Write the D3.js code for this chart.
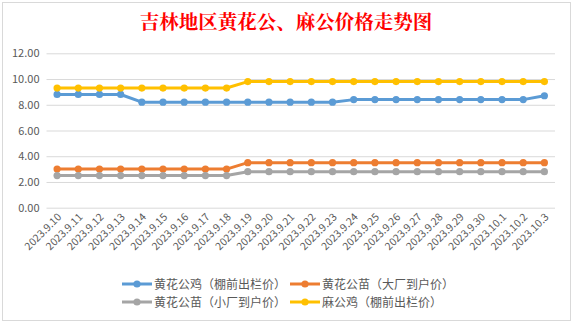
<!DOCTYPE html>
<html><head><meta charset="utf-8">
<script src="https://cdn.jsdelivr.net/npm/d3@7"></script>
<style>html,body{margin:0;padding:0;background:#fff;}svg{display:block;}</style>
</head><body>
<script>
const categories = ["2023.9.10","2023.9.11","2023.9.12","2023.9.13","2023.9.14","2023.9.15","2023.9.16","2023.9.17","2023.9.18","2023.9.19","2023.9.20","2023.9.21","2023.9.22","2023.9.23","2023.9.24","2023.9.25","2023.9.26","2023.9.27","2023.9.28","2023.9.29","2023.9.30","2023.10.1","2023.10.2","2023.10.3"];
const seriesNames = ["黄花公鸡（棚前出栏价）","黄花公苗（大厂到户价）","黄花公苗（小厂到户价）","麻公鸡（棚前出栏价）"];
const huangGongJi = [8.8,8.8,8.8,8.8,8.2,8.2,8.2,8.2,8.2,8.2,8.2,8.2,8.2,8.2,8.4,8.4,8.4,8.4,8.4,8.4,8.4,8.4,8.4,8.7];
const daChangMiao = [3.0,3.0,3.0,3.0,3.0,3.0,3.0,3.0,3.0,3.5,3.5,3.5,3.5,3.5,3.5,3.5,3.5,3.5,3.5,3.5,3.5,3.5,3.5,3.5];
const xiaoChangMiao = [2.5,2.5,2.5,2.5,2.5,2.5,2.5,2.5,2.5,2.8,2.8,2.8,2.8,2.8,2.8,2.8,2.8,2.8,2.8,2.8,2.8,2.8,2.8,2.8];
const maGongJi = [9.3,9.3,9.3,9.3,9.3,9.3,9.3,9.3,9.3,9.8,9.8,9.8,9.8,9.8,9.8,9.8,9.8,9.8,9.8,9.8,9.8,9.8,9.8,9.8];
const yTicks = [0,2,4,6,8,10,12];
const colors = ["#5b9bd5","#ed7d31","#a5a5a5","#ffc000"];
const seriesData = [huangGongJi, daChangMiao, xiaoChangMiao, maGongJi];

const W = 573, H = 324;
const svg = d3.select("body").append("svg").attr("width", W).attr("height", H);
svg.append("rect").attr("x",2.5).attr("y",2.5).attr("width",568).attr("height",318)
  .attr("fill","#fff").attr("stroke","#d9d9d9").attr("stroke-width",1);

const font = "'Microsoft YaHei','Noto Sans CJK SC',sans-serif";
svg.append("text").attr("x",286).attr("y",29).attr("text-anchor","middle")
  .attr("font-family","'Noto Serif CJK SC','Noto Sans CJK SC',serif").attr("font-size",19.5).attr("font-weight","bold")
  .attr("fill","#ff0000").text("吉林地区黄花公、麻公价格走势图");

const x = d3.scaleBand().domain(categories).range([46.5,555]);
const y = d3.scaleLinear().domain([0,12]).range([207.7,53.3]);

const yAxis = svg.append("g").attr("transform","translate(46.5,0)")
  .call(d3.axisLeft(y).tickValues(yTicks).tickSize(-(555-46.5)).tickFormat(d3.format(".2f")));
yAxis.select(".domain").remove();
yAxis.selectAll(".tick line").attr("stroke","#d9d9d9");
yAxis.selectAll(".tick text").attr("x",-7).attr("font-family",font).attr("font-size",11).attr("fill","#595959");

const xAxis = svg.append("g").attr("transform","translate(0,207.7)")
  .call(d3.axisBottom(x).tickSize(0));
xAxis.select(".domain").remove();
xAxis.selectAll(".tick text").attr("font-family",font).attr("font-size",10.5).attr("fill","#595959")
  .attr("text-anchor","end").attr("dy",0).attr("y",0)
  .attr("transform","translate(5,10) rotate(-45)");

const line = d3.line().x((d,i)=>x(categories[i])+x.bandwidth()/2).y(d=>y(d));
seriesData.forEach((s,k)=>{
  const g = svg.append("g");
  g.append("path").datum(s).attr("d",line).attr("fill","none").attr("stroke",colors[k]).attr("stroke-width",3).attr("stroke-linejoin","round");
  g.selectAll("circle").data(s).join("circle")
    .attr("cx",(d,i)=>x(categories[i])+x.bandwidth()/2).attr("cy",d=>y(d)).attr("r",3.6).attr("fill",colors[k]);
});

const legPos = [[122,284],[290,284],[122,302],[290,302]];
seriesNames.forEach((n,k)=>{
  const [lx,ly] = legPos[k];
  const g = svg.append("g");
  g.append("line").attr("x1",lx).attr("x2",lx+30).attr("y1",ly).attr("y2",ly).attr("stroke",colors[k]).attr("stroke-width",3);
  g.append("circle").attr("cx",lx+15).attr("cy",ly).attr("r",3.6).attr("fill",colors[k]);
  g.append("text").attr("x",lx+32).attr("y",ly+4.5).attr("font-family",font).attr("font-size",12).attr("fill","#595959").text(n);
});
</script>
</body></html>
